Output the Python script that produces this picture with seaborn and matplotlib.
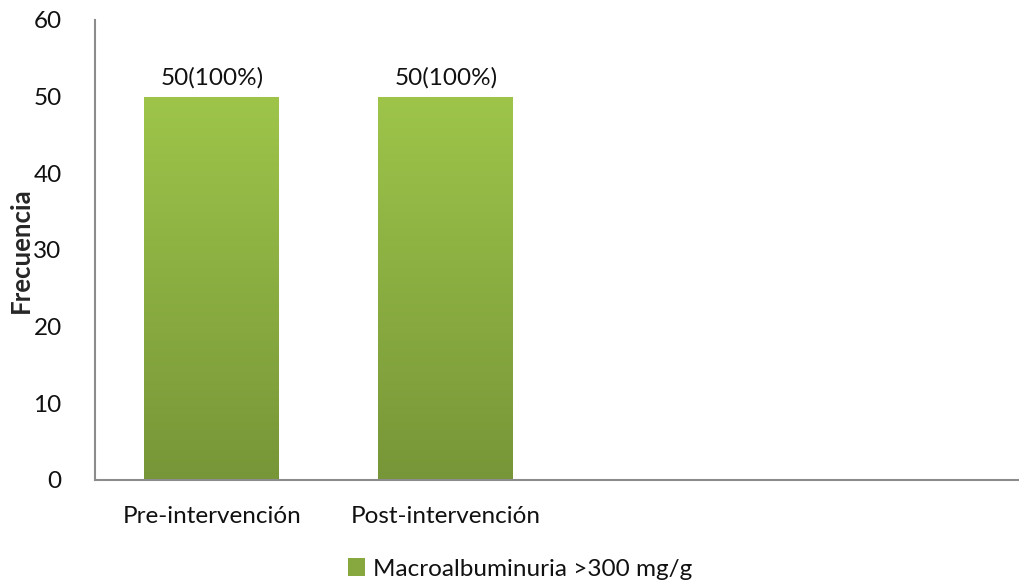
import numpy as np
import pandas as pd
import matplotlib
matplotlib.use("Agg")
import matplotlib.pyplot as plt
import matplotlib.patches as mpatches
from matplotlib.colors import LinearSegmentedColormap
import seaborn as sns

# Data
categories = ["Pre-intervención", "Post-intervención"]
values = [50, 50]
value_labels = ["50(100%)", "50(100%)"]
series_name = "Macroalbuminuria >300 mg/g"
y_ticks = [0, 10, 20, 30, 40, 50, 60]

sns.set_theme(style="white")
plt.rcParams["font.family"] = ["Lato", "DejaVu Sans"]

df = pd.DataFrame({"Momento": categories, "Frecuencia": values})

fig = plt.figure(figsize=(10.19, 5.84), dpi=100)
ax = fig.add_axes([95 / 1019, 104 / 584, 924 / 1019, 460 / 584])

top_color = "#9ec54a"
bottom_color = "#779638"
sns.barplot(data=df, x="Momento", y="Frecuencia", color=bottom_color,
            width=0.577, ax=ax, saturation=1)

ax.set_xlim(-0.5, 3.45)
ax.set_ylim(0, 60)
ax.set_yticks(y_ticks)
ax.set_yticklabels([str(t) for t in y_ticks], fontsize=17.5, color="#111111")
ax.tick_params(axis="x", labelsize=17.5, colors="#111111", length=0, pad=19)
ax.tick_params(axis="y", length=0, pad=24)

# vertical gradient fill for each bar
cmap = LinearSegmentedColormap.from_list("grn", [bottom_color, top_color])
grad = np.linspace(0, 1, 256).reshape(-1, 1)
for bar in ax.patches:
    x0, y0 = bar.get_x(), bar.get_y()
    w, h = bar.get_width(), bar.get_height()
    img = ax.imshow(grad, cmap=cmap, origin="lower", aspect="auto",
                    extent=[x0, x0 + w, y0, y0 + h], zorder=bar.get_zorder())
    img.set_clip_path(bar)
    bar.set_facecolor("none")
    bar.set_edgecolor("none")

# value labels above bars
for bar, lab in zip(ax.patches, value_labels):
    ax.annotate(lab, (bar.get_x() + bar.get_width() / 2, bar.get_height()),
                xytext=(0, 6), textcoords="offset points",
                ha="center", va="bottom", fontsize=17.5, color="#111111")

ax.set_xlabel("")
ax.set_ylabel("Frecuencia", fontsize=18.5, fontweight="bold", va="center")
ax.yaxis.set_label_coords(-74 / 924, 0.5)

for side in ["top", "right"]:
    ax.spines[side].set_visible(False)
for side in ["left", "bottom"]:
    ax.spines[side].set_color("#8c8c8c")
    ax.spines[side].set_linewidth(1.5)

handle = mpatches.Patch(facecolor="#86a83f", edgecolor="none", label=series_name)
fig.legend(handles=[handle], loc="center", bbox_to_anchor=(520 / 1019, 1 - 569 / 584),
           frameon=False, fontsize=17.5, handlelength=0.7, handleheight=0.7,
           handletextpad=0.3, labelcolor="#111111")

fig.savefig("out.png", dpi=100)
